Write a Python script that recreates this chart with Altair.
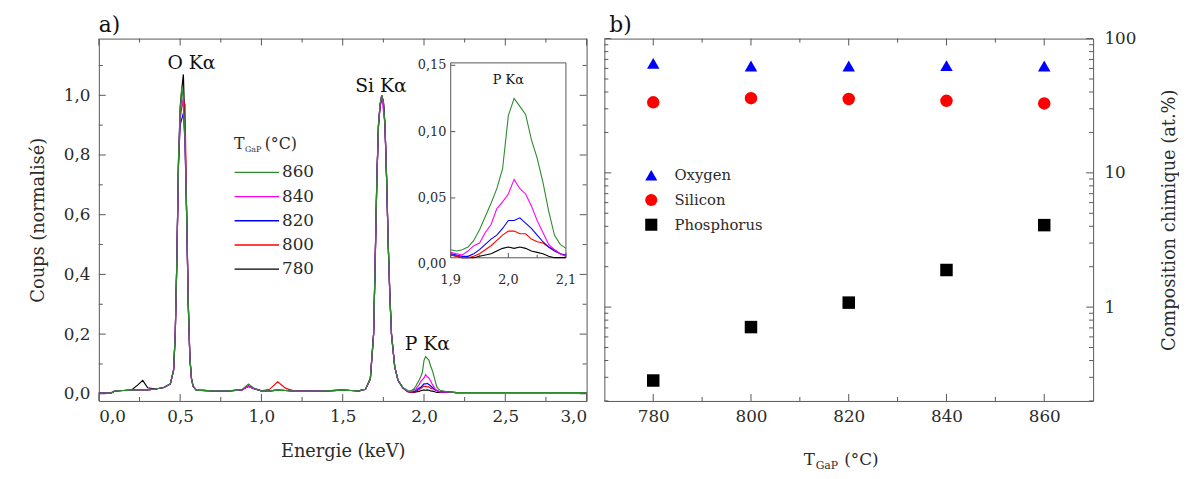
import altair as alt
import pandas as pd

FONT = "DejaVu Serif"
TXT = "#2b2b2b"
FRAME = "#555555"

# ---------------- Panel a : EDX spectra ----------------
temps_a = [780, 800, 820, 840, 860]
colors_a = {780: "#000000", 800: "#ff0000", 820: "#0000ff", 840: "#ff00ff", 860: "#2e8b2e"}
legend_order = [860, 840, 820, 800, 780]

energy_main = [0.00, 0.06, 0.08, 0.10, 0.15, 0.20, 0.24, 0.27, 0.30, 0.35,
               0.40, 0.44, 0.46, 0.47, 0.48, 0.49, 0.50, 0.51, 0.52, 0.53,
               0.54, 0.55, 0.56, 0.57, 0.58, 0.60, 0.70, 0.80, 0.88, 0.92,
               0.95, 1.00, 1.05, 1.10, 1.15, 1.20, 1.30, 1.40, 1.50, 1.55,
               1.60, 1.64, 1.67, 1.69, 1.70, 1.71, 1.72, 1.73, 1.74, 1.75,
               1.76, 1.77, 1.78, 1.79, 1.80, 1.82, 1.84, 1.87]

main_780 = [.002, .002, .004, .010, .011, .012, .030, .045, .020, .016,
            .021, .033, .080, .200, .450, .780, .960, 1.02, 1.07, .880,
            .600, .300, .120, .050, .025, .012, .010, .010, .013, .026,
            .018, .010, .010, .012, .011, .009, .009, .010, .012, .011,
            .010, .015, .050, .200, .450, .720, .900, .960, .990, .980,
            .900, .720, .500, .330, .200, .090, .045, .020]
main_800 = [.002, .002, .004, .010, .011, .012, .013, .014, .013, .016,
            .021, .033, .080, .200, .450, .770, .920, .960, .980, .970,
            .620, .310, .120, .050, .025, .012, .010, .010, .013, .026,
            .018, .010, .015, .040, .018, .010, .009, .010, .012, .011,
            .010, .015, .050, .200, .450, .720, .900, .970, 1.00, .980,
            .900, .720, .500, .330, .200, .090, .045, .020]
main_820 = [.002, .002, .004, .010, .011, .012, .013, .014, .013, .016,
            .021, .033, .080, .200, .450, .770, .900, .920, .940, .840,
            .600, .300, .120, .050, .025, .012, .010, .010, .013, .025,
            .018, .010, .010, .012, .011, .009, .009, .010, .012, .011,
            .010, .015, .050, .200, .450, .720, .900, .970, 1.00, .980,
            .900, .720, .500, .330, .200, .090, .045, .020]
main_840 = [.002, .002, .004, .010, .011, .012, .013, .014, .013, .016,
            .021, .033, .080, .200, .450, .780, .930, .990, .960, .850,
            .600, .300, .120, .050, .025, .012, .010, .010, .013, .025,
            .018, .010, .010, .012, .011, .009, .009, .010, .012, .011,
            .010, .015, .050, .200, .450, .720, .900, .970, 1.00, .950,
            .900, .720, .500, .330, .200, .090, .045, .020]
main_860 = [.002, .002, .004, .010, .011, .012, .013, .014, .013, .016,
            .021, .033, .080, .200, .450, .790, .940, 1.03, .980, .860,
            .600, .300, .120, .050, .025, .012, .010, .010, .014, .033,
            .020, .010, .010, .012, .011, .009, .009, .010, .012, .011,
            .010, .015, .050, .200, .450, .720, .900, .970, 1.00, .980,
            .900, .720, .500, .330, .200, .090, .045, .020]

energy_p = [1.90, 1.91, 1.92, 1.93, 1.94, 1.95, 1.96, 1.97, 1.98, 1.99, 2.00,
            2.01, 2.02, 2.03, 2.04, 2.05, 2.06, 2.07, 2.08, 2.09, 2.10]
p_780 = [.007, .006, .005, .005, .005, .006, .007, .008, .010, .012, .013,
         .012, .013, .012, .010, .009, .008, .006, .005, .005, .005]
p_800 = [.007, .006, .005, .005, .006, .008, .011, .014, .018, .022, .025,
         .025, .023, .023, .019, .017, .016, .013, .011, .008, .006]
p_820 = [.008, .007, .006, .006, .008, .011, .015, .019, .022, .027, .033,
         .033, .035, .031, .027, .022, .017, .013, .010, .008, .007]
p_840 = [.009, .008, .007, .010, .014, .016, .024, .030, .042, .047, .053,
         .064, .057, .053, .044, .033, .024, .015, .011, .008, .006]
p_860 = [.011, .010, .011, .013, .018, .026, .036, .046, .057, .072, .112,
         .125, .119, .113, .094, .080, .062, .040, .022, .015, .012]

energy_tail = [2.15, 2.20, 2.40, 2.60, 2.80, 3.00]
tail_counts = [.006, .004, .004, .004, .004, .004]

main_series = {780: main_780, 800: main_800, 820: main_820, 840: main_840, 860: main_860}
p_series = {780: p_780, 800: p_800, 820: p_820, 840: p_840, 860: p_860}

rows = []
for t in temps_a:
    for e, c in zip(energy_main, main_series[t]):
        rows.append({"T": t, "E": e, "C": c})
    for e, c in zip(energy_p, p_series[t]):
        rows.append({"T": t, "E": e, "C": c})
    for e, c in zip(energy_tail, tail_counts):
        rows.append({"T": t, "E": e, "C": c})
spec = pd.DataFrame(rows)

peak_names = ["O K\u03b1", "Si K\u03b1", "P K\u03b1"]
peak_x = [0.57, 1.735, 2.02]
peak_y = [1.107, 1.03, 0.165]
peaks = pd.DataFrame({"name": peak_names, "x": peak_x, "y": peak_y})

xa_major = [0.0, 0.5, 1.0, 1.5, 2.0, 2.5, 3.0]
xa_minor = [0.25, 0.75, 1.25, 1.75, 2.25, 2.75]
ya_major = [0.0, 0.2, 0.4, 0.6, 0.8, 1.0]
ya_minor = [0.1, 0.3, 0.5, 0.7, 0.9, 1.1]

inset_x_ticks = [1.9, 2.0, 2.1]
inset_x_minor = [1.95, 2.05]
inset_y_ticks = [0.0, 0.05, 0.10, 0.15]

# ---------------- Panel b : composition ----------------
temps_b = [780, 800, 820, 840, 860]
oxygen = [65.3, 62.5, 62.5, 63.0, 62.5]
silicon = [33.5, 36.0, 35.5, 34.4, 32.9]
phosphorus = [0.284, 0.71, 1.08, 1.89, 4.08]
elements = ["Oxygen", "Silicon", "Phosphorus"]
elem_colors = ["#0000ff", "#ff0000", "#000000"]
elem_shapes = ["triangle-up", "circle", "square"]

xb_major = [780, 800, 820, 840, 860]
xb_minor = [790, 810, 830, 850]
yb_major = [1, 10, 100]
yb_minor = [0.2, 0.3, 0.4, 0.5, 0.6, 0.7, 0.8, 0.9,
            2, 3, 4, 5, 6, 7, 8, 9,
            20, 30, 40, 50, 60, 70, 80, 90]

comp = pd.DataFrame({
    "T": temps_b * 3,
    "element": ["Oxygen"] * 5 + ["Silicon"] * 5 + ["Phosphorus"] * 5,
    "value": oxygen + silicon + phosphorus,
})

# ---------------- sizes ----------------
WA, HA = 494, 367
WB, HB = 495, 367
MAJ, MIN = 7, 4

# legend layout for panel a (pixel positions inside panel a)
LEG_X0, LEG_X1, LEG_Y0, LEG_DY = 137.5, 182.5, 135.5, 24.5
leg_a = pd.DataFrame({"T": legend_order,
                      "label": [str(t) for t in legend_order],
                      "py": [LEG_Y0 + LEG_DY * i for i in range(len(legend_order))]})

one = pd.DataFrame({"k": [0]})


def ticks_x(values, scale, axis, length, h):
    d = pd.DataFrame({"v": values})
    bot = alt.Chart(d).mark_rule(color=FRAME, strokeWidth=1).encode(
        x=alt.X("v:Q", scale=scale, axis=axis),
        y=alt.value(h), y2=alt.value(h - length))
    top = alt.Chart(d).mark_rule(color=FRAME, strokeWidth=1).encode(
        x=alt.X("v:Q", scale=scale, axis=axis),
        y=alt.value(0), y2=alt.value(length))
    return [bot, top]


def ticks_y(values, scale, axis, length, w):
    d = pd.DataFrame({"v": values})
    left = alt.Chart(d).mark_rule(color=FRAME, strokeWidth=1).encode(
        y=alt.Y("v:Q", scale=scale, axis=axis),
        x=alt.value(0), x2=alt.value(length))
    right = alt.Chart(d).mark_rule(color=FRAME, strokeWidth=1).encode(
        y=alt.Y("v:Q", scale=scale, axis=axis),
        x=alt.value(w), x2=alt.value(w - length))
    return [left, right]


AX_STYLE = dict(labelFont=FONT, labelFontSize=17, labelColor=TXT,
                titleFont=FONT, titleFontSize=18, titleColor=TXT, titleFontWeight="normal",
                ticks=False, domain=False, grid=False)

# ---------------- panel a ----------------
sx_a = alt.Scale(domain=[0, 3], nice=False, zero=False)
sy_a = alt.Scale(domain=[-0.024, 1.19], nice=False, zero=False)
cscale = alt.Scale(domain=legend_order, range=[colors_a[t] for t in legend_order])

axis_xa = alt.Axis(values=xa_major, labelExpr="replace(format(datum.value, '.1f'), '.', ',')",
                   labelPadding=8, title="Energie (keV)", titlePadding=18, **AX_STYLE)
axis_ya = alt.Axis(values=ya_major, labelExpr="replace(format(datum.value, '.1f'), '.', ',')",
                   labelPadding=9, title="Coups (normalis\u00e9)", titlePadding=16, **AX_STYLE)

main_layers = []
for t in temps_a:
    main_layers.append(
        alt.Chart(spec).transform_filter(alt.datum.T == t).mark_line(strokeWidth=1.2).encode(
            x=alt.X("E:Q", scale=sx_a, axis=axis_xa),
            y=alt.Y("C:Q", scale=sy_a, axis=axis_ya),
            color=alt.Color("T:N", scale=cscale, legend=None),
        )
    )
main_layers += ticks_x(xa_major, sx_a, axis_xa, MAJ, HA) + ticks_x(xa_minor, sx_a, axis_xa, MIN, HA)
main_layers += ticks_y(ya_major, sy_a, axis_ya, MAJ, WA) + ticks_y(ya_minor, sy_a, axis_ya, MIN, WA)

main_layers.append(alt.Chart(peaks).mark_text(font=FONT, fontSize=19, color="#111111").encode(
    x=alt.X("x:Q", scale=sx_a, axis=axis_xa),
    y=alt.Y("y:Q", scale=sy_a, axis=axis_ya),
    text="name:N"))

# manual legend (lines + labels)
main_layers.append(alt.Chart(leg_a).mark_rule(strokeWidth=1.4).encode(
    x=alt.value(LEG_X0), x2=alt.value(LEG_X1),
    y=alt.Y("py:Q", scale=None),
    color=alt.Color("T:N", scale=cscale, legend=None)))
main_layers.append(alt.Chart(leg_a).mark_text(font=FONT, fontSize=17, color=TXT, align="left",
                                              baseline="middle").encode(
    x=alt.value(LEG_X1 + 3), y=alt.Y("py:Q", scale=None), text="label:N"))

# legend title T_GaP (°C)
main_layers.append(alt.Chart(one).mark_text(text="T", font=FONT, fontSize=16, color=TXT, align="left")
                   .encode(x=alt.value(137), y=alt.value(107)))
main_layers.append(alt.Chart(one).mark_text(text="GaP", font=FONT, fontSize=8, color=TXT, align="left")
                   .encode(x=alt.value(148), y=alt.value(113)))
main_layers.append(alt.Chart(one).mark_text(text="(\u00b0C)", font=FONT, fontSize=16, color=TXT, align="left")
                   .encode(x=alt.value(168), y=alt.value(107)))
main_layers.append(alt.Chart(one).mark_text(text="a)", font=FONT, fontSize=22, color="#111111", align="left",
                                            baseline="alphabetic")
                   .encode(x=alt.value(0), y=alt.value(-7)))

main_group = alt.layer(*main_layers)

# inset
sx_i = alt.Scale(domain=[1.9, 2.1], nice=False, zero=False, range=[356.4, 473.1])
sy_i = alt.Scale(domain=[0.0049, 0.1518], nice=False, zero=False, range=[222.0, 24.6])
spec_p = spec[(spec.E >= 1.9) & (spec.E <= 2.1001)]

frame_df = pd.DataFrame({"x0": [1.9], "x1": [2.1], "y0": [0.0049], "y1": [0.1518]})
inset_layers = [
    alt.Chart(frame_df).mark_rect(fill="white", stroke=FRAME, strokeWidth=1).encode(
        x=alt.X("x0:Q", scale=sx_i, axis=None), x2="x1:Q",
        y=alt.Y("y0:Q", scale=sy_i, axis=None), y2="y1:Q")
]
for t in temps_a:
    inset_layers.append(
        alt.Chart(spec_p).transform_filter(alt.datum.T == t).mark_line(strokeWidth=1.1).encode(
            x=alt.X("E:Q", scale=sx_i, axis=None),
            y=alt.Y("C:Q", scale=sy_i, axis=None),
            color=alt.Color("T:N", scale=cscale, legend=None),
        )
    )
ixt = pd.DataFrame({"v": inset_x_ticks})
ixm = pd.DataFrame({"v": inset_x_minor})
iyt = pd.DataFrame({"v": inset_y_ticks[1:]})
inset_layers += [
    alt.Chart(ixt).mark_rule(color=FRAME).encode(
        x=alt.X("v:Q", scale=sx_i, axis=None), y=alt.value(222), y2=alt.value(217)),
    alt.Chart(ixm).mark_rule(color=FRAME).encode(
        x=alt.X("v:Q", scale=sx_i, axis=None), y=alt.value(222), y2=alt.value(219)),
    alt.Chart(iyt).mark_rule(color=FRAME).encode(
        y=alt.Y("v:Q", scale=sy_i, axis=None), x=alt.value(356.4), x2=alt.value(361)),
    alt.Chart(ixt).transform_calculate(lab="replace(format(datum.v, '.1f'), '.', ',')")
    .mark_text(font=FONT, fontSize=13, color=TXT, baseline="middle").encode(
        x=alt.X("v:Q", scale=sx_i, axis=None), y=alt.value(245), text="lab:N"),
    alt.Chart(pd.DataFrame({"v": inset_y_ticks})).transform_calculate(
        lab="replace(format(datum.v, '.2f'), '.', ',')")
    .mark_text(font=FONT, fontSize=13, color=TXT, align="right", baseline="middle").encode(
        y=alt.Y("v:Q", scale=sy_i, axis=None), x=alt.value(352), text="lab:N"),
    alt.Chart(pd.DataFrame({"name": ["P K\u03b1"], "x": [2.0], "y": [0.139]}))
    .mark_text(font=FONT, fontSize=13, color="#111111").encode(
        x=alt.X("x:Q", scale=sx_i, axis=None), y=alt.Y("y:Q", scale=sy_i, axis=None), text="name:N"),
]
inset_group = alt.layer(*inset_layers)

panel_a = alt.layer(main_group, inset_group).resolve_scale(x="independent", y="independent").properties(
    width=WA, height=HA)

# ---------------- panel b ----------------
sx_b = alt.Scale(domain=[770, 870], nice=False, zero=False)
sy_b = alt.Scale(type="log", domain=[0.2, 100], nice=False)
legend_b = alt.Legend(orient="none", legendX=40, legendY=131, title=None,
                      labelFont=FONT, labelFontSize=15, labelColor=TXT,
                      labelOffset=16, rowPadding=9, padding=0, symbolSize=150,
                      symbolStrokeWidth=0)

axis_xb = alt.Axis(values=xb_major, format="d", labelPadding=8, title=None, **AX_STYLE)
axis_yb = alt.Axis(orient="right", values=yb_major, format="d", labelPadding=11,
                   title="Composition chimique (at.%)", titlePadding=25, titleAngle=270,
                   titleBaseline="top", **AX_STYLE)

b_layers = [
    alt.Chart(comp).mark_point(filled=True, size=160, opacity=1).encode(
        x=alt.X("T:Q", scale=sx_b, axis=axis_xb),
        y=alt.Y("value:Q", scale=sy_b, axis=axis_yb),
        color=alt.Color("element:N", scale=alt.Scale(domain=elements, range=elem_colors), legend=legend_b),
        shape=alt.Shape("element:N", scale=alt.Scale(domain=elements, range=elem_shapes), legend=legend_b),
    )
]
b_layers += ticks_x(xb_major, sx_b, axis_xb, MAJ, HB) + ticks_x(xb_minor, sx_b, axis_xb, MIN, HB)
b_layers += ticks_y(yb_major, sy_b, axis_yb, MAJ, WB) + ticks_y(yb_minor, sy_b, axis_yb, MIN, WB)
b_layers.append(alt.Chart(one).mark_text(text="T", font=FONT, fontSize=17, color=TXT, align="left")
                .encode(x=alt.value(202), y=alt.value(427)))
b_layers.append(alt.Chart(one).mark_text(text="GaP", font=FONT, fontSize=11, color=TXT, align="left")
                .encode(x=alt.value(214), y=alt.value(433)))
b_layers.append(alt.Chart(one).mark_text(text="(\u00b0C)", font=FONT, fontSize=17, color=TXT, align="left")
                .encode(x=alt.value(243), y=alt.value(427)))
b_layers.append(alt.Chart(one).mark_text(text="b)", font=FONT, fontSize=22, color="#111111", align="left",
                                         baseline="alphabetic")
                .encode(x=alt.value(5), y=alt.value(-7)))

panel_b = alt.layer(*b_layers).properties(width=WB, height=HB)

chart = alt.hconcat(panel_a, panel_b, spacing=14).resolve_scale(
    color="independent", shape="independent"
).properties(
    padding={"left": 21, "top": 2, "right": 0, "bottom": 0}, background="white"
).configure_view(stroke=FRAME, strokeWidth=1)

chart.save("out.html", embed_options={"renderer": "svg", "actions": False})
